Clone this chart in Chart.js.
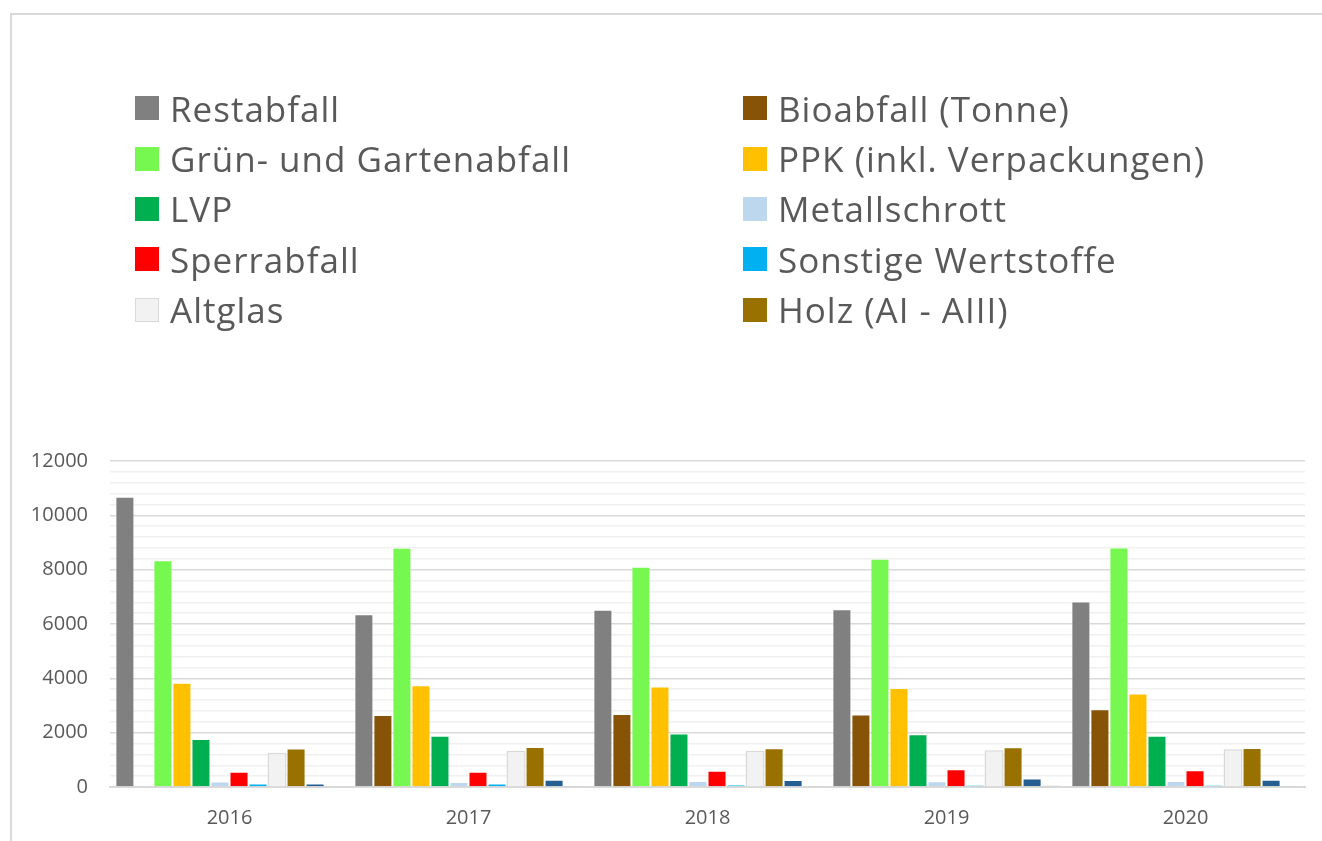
<!DOCTYPE html>
<html>
<head>
<meta charset="utf-8">
<script src="https://cdn.jsdelivr.net/npm/chart.js@4.4.0/dist/chart.umd.min.js"></script>
<style>
    html, body { margin: 0; background: #fff; overflow: hidden; }
    #rahmen { position: absolute; left: 10px; top: 13px; width: 1330px; height: 850px; border-left: 2px solid #d9d9d9; border-top: 2px solid #d9d9d9; }
    #chart-box { position: absolute; left: 0; top: 0; width: 1322px; height: 849px; }
    #legende { position: absolute; left: 135px; top: 83px; display: grid; grid-template-columns: 608px 500px; grid-auto-rows: 50.4px; font-family: 'Open Sans', sans-serif; }
    .legend-item { display: flex; align-items: center; font-size: 35px; letter-spacing: 1px; color: #595959; white-space: nowrap; }
    .legend-box { width: 24px; height: 24px; margin-right: 11px; flex: none; box-sizing: border-box; }
</style>
</head>
<body>
<div id="rahmen"></div>
<div id="chart-box"><canvas id="myChart" width="1322" height="849"></canvas></div>
<div id="legende"></div>
<script>
const jahre = ['2016', '2017', '2018', '2019', '2020'];

const restabfall = [10680, 6360, 6520, 6540, 6830];
const bioabfall = [0, 2650, 2690, 2670, 2860];
const gruenabfall = [8350, 8810, 8110, 8400, 8820];
const ppk = [3840, 3750, 3700, 3640, 3440];
const lvp = [1770, 1890, 1970, 1940, 1890];
const metallschrott = [200, 180, 220, 210, 220];
const sperrabfall = [560, 560, 600, 650, 620];
const sonstigeWertstoffe = [130, 130, 90, 70, 70];
const altglas = [1260, 1330, 1330, 1350, 1390];
const holz = [1420, 1470, 1430, 1460, 1440];
const elektro = [130, 270, 260, 310, 270];
const schadstoffe = [0, 50, 40, 60, 50];

const yTicks = [0, 2000, 4000, 6000, 8000, 10000, 12000];

const serien = [
    { label: 'Restabfall', data: restabfall, farbe: '#808080' },
    { label: 'Bioabfall (Tonne)', data: bioabfall, farbe: '#875306' },
    { label: 'Grün- und Gartenabfall', data: gruenabfall, farbe: '#77f850' },
    { label: 'PPK (inkl. Verpackungen)', data: ppk, farbe: '#ffc000' },
    { label: 'LVP', data: lvp, farbe: '#00b050' },
    { label: 'Metallschrott', data: metallschrott, farbe: '#bdd7ee' },
    { label: 'Sperrabfall', data: sperrabfall, farbe: '#ff0000' },
    { label: 'Sonstige Wertstoffe', data: sonstigeWertstoffe, farbe: '#00b0f0' },
    { label: 'Altglas', data: altglas, farbe: '#f2f2f2' },
    { label: 'Holz (AI - AIII)', data: holz, farbe: '#987100' },
    { label: 'Elektroaltgeräte', data: elektro, farbe: '#255e91' },
    { label: 'Schadstoffe', data: schadstoffe, farbe: '#b4c4a8' }
];

// nur die ersten 10 stehen in der Legende (Rest ist abgeschnitten)
const legendeAnzahl = 10;

function buildLegend() {
    const container = document.getElementById('legende');
    container.innerHTML = '';
    for (let i = 0; i < legendeAnzahl; i++) {
        const s = serien[i];
        const item = document.createElement('div');
        item.className = 'legend-item';
        const rand = s.label === 'Altglas' ? 'border:1px solid #d9d9d9;' : '';
        item.innerHTML = `<span class="legend-box" style="background:${s.farbe};${rand}"></span>${s.label}`;
        container.appendChild(item);
    }
}

function drawChart() {
    const ctx = document.getElementById('myChart').getContext('2d');
    new Chart(ctx, {
        type: 'bar',
        data: {
            labels: jahre,
            datasets: serien.map(s => ({
                label: s.label,
                data: s.data,
                backgroundColor: s.farbe,
                borderColor: s.label === 'Altglas' ? '#d9d9d9' : 'rgba(255,255,255,0.45)',
                borderWidth: s.label === 'Altglas' ? 1.5 : 1,
                categoryPercentage: 0.955,
                barPercentage: 1
            }))
        },
        options: {
            responsive: false,
            animation: false,
            layout: { padding: { left: 20, right: 17, top: 461, bottom: 0 } },
            plugins: {
                legend: { display: false },
                tooltip: { enabled: false }
            },
            scales: {
                x: {
                    grid: { display: false, drawTicks: false },
                    border: { color: '#d9d9d9', width: 2 },
                    ticks: { color: '#595959', font: { family: 'Open Sans', size: 20 }, padding: 19 }
                },
                y: {
                    min: 0,
                    max: 12000,
                    afterFit: (axis) => { axis.width = 90; },
                    border: { display: false },
                    grid: {
                        drawTicks: false,
                        color: (c) => (c.tick && c.tick.value % 2000 === 0) ? '#d9d9d9' : '#f0f0f0',
                        lineWidth: 1.5
                    },
                    ticks: {
                        stepSize: 400,
                        autoSkip: false,
                        padding: 22,
                        color: '#595959',
                        font: { family: 'Open Sans', size: 20 },
                        callback: (v) => yTicks.includes(v) ? String(v) : ''
                    }
                }
            }
        }
    });
}

buildLegend();
drawChart();
</script>
</body>
</html>
